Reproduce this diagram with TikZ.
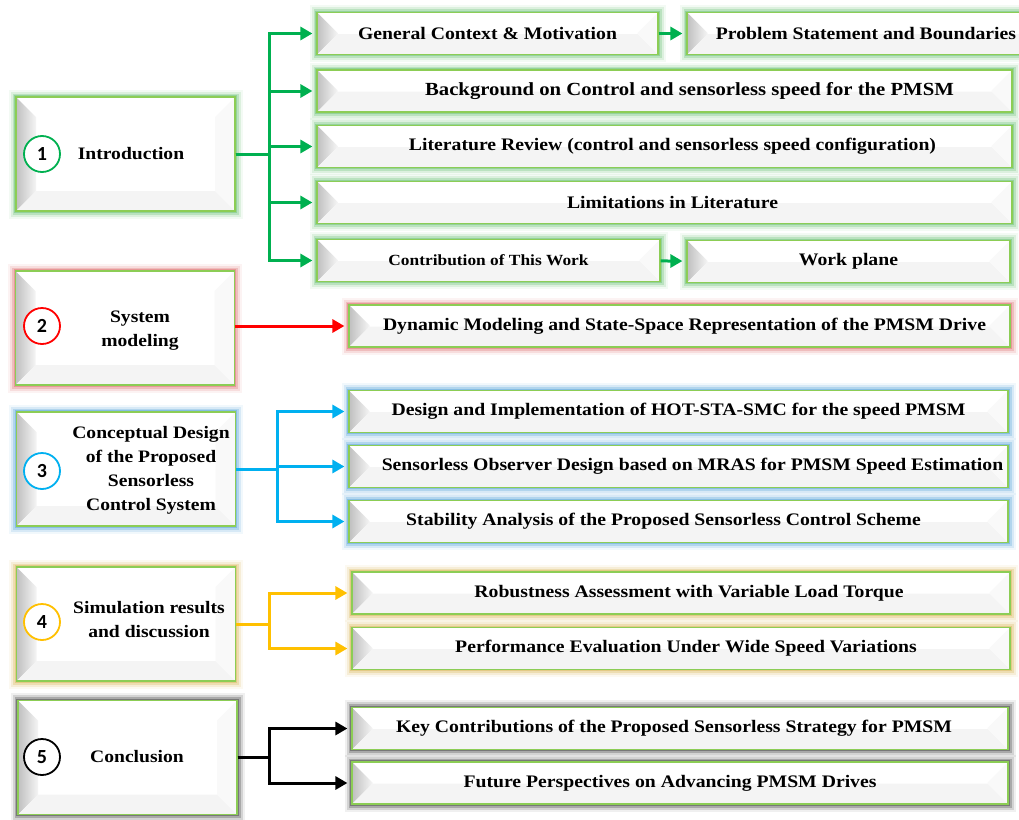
\documentclass[tikz,border=0pt]{standalone}
\usepackage{fontspec}
\setmainfont{Liberation Serif}[FakeStretch=1.12]
\newfontfamily\numfont{Carlito}
\usetikzlibrary{arrows.meta}

\definecolor{cgreen}{RGB}{0,176,80}
\definecolor{cred}{RGB}{255,0,0}
\definecolor{cblue}{RGB}{0,176,240}
\definecolor{cyellow}{RGB}{255,192,0}
\definecolor{cblack}{RGB}{0,0,0}
\definecolor{cborder}{RGB}{140,205,85}
\definecolor{gglow}{RGB}{100,190,110}
\definecolor{rglow}{RGB}{220,105,105}
\definecolor{bglow}{RGB}{80,160,215}
\definecolor{yglow}{RGB}{215,178,80}
\definecolor{kglow}{RGB}{60,60,60}

\begin{document}
\begin{tikzpicture}[x=1pt,y=-1pt]
	\tikzset{
		box/.style={draw=cborder, line width=1.2pt, fill=white, inner sep=0pt,
			preaction={draw=#1, line width=15pt, opacity=.08},
			preaction={draw=#1, line width=11pt, opacity=.16},
			preaction={draw=#1, line width=7pt, opacity=.28},
			preaction={draw=#1, line width=3.5pt, opacity=.45}},
		bevel/.style={path picture={
			\path (path picture bounding box.north west) coordinate (bnw)
			      (path picture bounding box.north east) coordinate (bne)
			      (path picture bounding box.south west) coordinate (bsw)
			      (path picture bounding box.south east) coordinate (bse);
			\shade[left color=gray!50, right color=gray!8] (bnw) -- ([shift={(#1pt,-#1pt)}]bnw) -- ([shift={(#1pt,#1pt)}]bsw) -- (bsw) -- cycle;
			\fill[gray!9] (bsw) -- ([shift={(#1pt,#1pt)}]bsw) -- ([shift={(-#1pt,#1pt)}]bse) -- (bse) -- cycle;
			\fill[gray!5] (bse) -- ([shift={(-#1pt,#1pt)}]bse) -- ([shift={(-#1pt,-#1pt)}]bne) -- (bne) -- cycle;
		}},
		push/.style={execute at begin node={\hspace*{#1pt}}},
		mainbox/.style={box=#1, bevel=20, minimum width=219pt, minimum height=114pt},
		subbox/.style={box=#1, bevel=20.5, minimum height=42pt, font=\bfseries\fontsize{17.6}{21}\selectfont},
		num/.style={circle, draw=#1, line width=1.8pt, fill=white, minimum size=36pt, inner sep=0pt,
			font=\numfont\bfseries\fontsize{20}{20}\selectfont},
		title/.style={align=center, font=\bfseries\fontsize{17.5}{24}\selectfont},
		arr/.style={draw=#1, line width=3pt, -{Triangle[length=12pt,width=13pt]}, shorten >=4pt}
	}
	\useasboundingbox (0,0) rectangle (1019,819);
	
	% Main chapters
	\node[mainbox=gglow] (m1) at (125.5,154) {};
	\node[mainbox=rglow] (m2) at (125,328) {};
	\node[mainbox=bglow] (m3) at (126,469) {};
	\node[mainbox=yglow] (m4) at (126,624) {};
	\node[mainbox=kglow] (m5) at (127.5,757.5) {};
	\foreach \n/\y/\col in {1/154/cgreen,2/326/cred,3/471/cblue,4/622/cyellow,5/757/cblack}{
		\node[num=\col] (n\n) at (42,\y) {\n};
	}
	\node[title] (t1) at (131,154) {Introduction};
	\node[title] (t2) at (140,331) {System\\modeling};
	\node[title] (t3) at (151,470) {Conceptual Design\\of the Proposed\\Sensorless\\Control System};
	\node[title] (t4) at (149,620) {Simulation results\\and discussion};
	\node[title] (t5) at (137,757) {Conclusion};
	
	% Chapter 1
	\node[subbox=gglow, minimum width=341pt] (g1) at (487.5,33.5) {General Context \& Motivation};
	\node[subbox=gglow, minimum width=358pt] (g2) at (866,33.5) {Problem Statement and Boundaries};
	\node[subbox=gglow, minimum width=695pt, push=50, font=\bfseries\fontsize{18.5}{21}\selectfont] (g3) at (664.5,91) {Background on Control and sensorless speed for the PMSM};
	\node[subbox=gglow, minimum width=695pt, push=16] (g4) at (664.5,146.5) {Literature Review (control and sensorless speed configuration)};
	\node[subbox=gglow, minimum width=695pt, push=16] (g5) at (664.5,202.5) {Limitations in Literature};
	\node[subbox=gglow, minimum width=343pt, font=\bfseries\fontsize{15.5}{18}\selectfont] (g6) at (488.5,260.5) {Contribution of This Work};
	\node[subbox=gglow, minimum width=323pt] (g7) at (848.5,261.5) {Work plane};
	\coordinate (x1) at (269,0);
	\foreach \s in {g1,g3,g4,g5,g6}{
		\draw[arr=cgreen] (m1.east) -- (m1.east -| x1) |- (\s.west);
	}
	\draw[arr=cgreen] (g1) -- (g2);
	\draw[arr=cgreen] (g6) -- (g7);
	
	% Chapter 2
	\node[subbox=rglow, minimum width=661pt, push=10] (r1) at (679.5,326) {Dynamic Modeling and State-Space Representation of the PMSM Drive};
	\draw[arr=cred] (m2.east |- r1.west) -- (r1.west);
	
	% Chapter 3
	\node[subbox=bglow, minimum width=659pt] (b1) at (678.5,411.5) {Design and Implementation of HOT-STA-SMC for the speed PMSM};
	\node[subbox=bglow, minimum width=659pt, push=28] (b2) at (678.5,466.5) {Sensorless Observer Design based on MRAS for PMSM Speed Estimation};
	\node[subbox=bglow, minimum width=659pt, push=-30] (b3) at (678.5,521.5) {Stability Analysis of the Proposed Sensorless Control Scheme};
	\coordinate (x3) at (277,0);
	\foreach \s in {b1,b2,b3}{
		\draw[arr=cblue] (m3.east) -- (m3.east -| x3) |- (\s.west);
	}
	
	% Chapter 4
	\node[subbox=yglow, minimum width=658pt, push=16] (y1) at (681,593) {Robustness Assessment with Variable Load Torque};
	\node[subbox=yglow, minimum width=658pt, push=10] (y2) at (681,648.5) {Performance Evaluation Under Wide Speed Variations};
	\coordinate (x4) at (269,0);
	\foreach \s in {y1,y2}{
		\draw[arr=cyellow] (m4.east) -- (m4.east -| x4) |- (\s.west);
	}
	
	% Chapter 5
	\node[subbox=kglow, minimum width=656pt, push=-12] (k1) at (680,728.5) {Key Contributions of the Proposed Sensorless Strategy for PMSM};
	\node[subbox=kglow, minimum width=656pt, push=-20] (k2) at (680,783) {Future Perspectives on Advancing PMSM Drives};
	\coordinate (x5) at (269,0);
	\foreach \s in {k1,k2}{
		\draw[arr=cblack] (m5.east) -- (m5.east -| x5) |- (\s.west);
	}
\end{tikzpicture}
\end{document}
